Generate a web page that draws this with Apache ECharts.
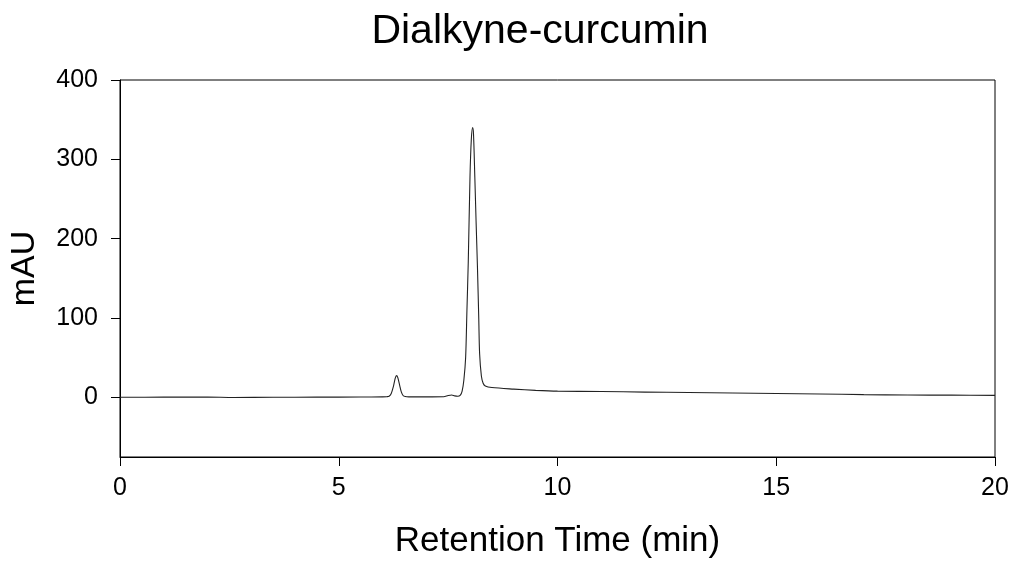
<!DOCTYPE html>
<html><head><meta charset="utf-8">
<script src="https://cdn.jsdelivr.net/npm/echarts@6/dist/echarts.min.js"></script>
<style>html,body{margin:0;padding:0;background:#fff}#c{width:1014px;height:561px}</style>
</head><body><div id="c"></div>
<script>
const titleText = 'Dialkyne-curcumin';
const xName = 'Retention Time (min)';
const yName = 'mAU';
const xTicks = [0, 5, 10, 15, 20];
const yTicks = [0, 100, 200, 300, 400];
const timeMin = [0, 1, 2, 2.6, 3.5, 4.5, 5.5, 6.0, 6.1, 6.15, 6.2, 6.25, 6.29, 6.32, 6.35, 6.39, 6.43, 6.47, 6.52, 6.6, 7.0, 7.4, 7.5, 7.58, 7.65, 7.72, 7.78, 7.82, 7.86, 7.9, 7.93, 7.96, 8.0, 8.03, 8.06, 8.08, 8.11, 8.14, 8.17, 8.2, 8.22, 8.26, 8.3, 8.35, 8.5, 9.0, 9.5, 10, 11, 12, 13, 14, 15, 16, 17, 18, 19, 20];
const mAU = [0.3, 0.4, 0.5, 0.0, 0.3, 0.4, 0.6, 0.8, 1.0, 1.5, 5, 14, 24, 27.5, 25, 16, 7, 2.5, 1.2, 0.8, 0.8, 1.0, 2.5, 3.2, 2.0, 1.5, 3, 8, 22, 50, 110, 170, 278, 325, 340, 332, 278, 220, 165, 100, 55, 27, 18, 14.5, 12.5, 10.5, 9, 8, 7.5, 6.8, 6.2, 5.6, 5, 4.4, 3.6, 3.1, 2.9, 2.6];

const chart = echarts.init(document.getElementById('c'), null, {renderer: 'canvas'});
const font = 'Liberation Sans, Arial, sans-serif';
chart.setOption({
  animation: false,
  backgroundColor: '#fff',
  title: {text: titleText, left: 535, top: 6, textAlign: 'center',
    textStyle: {fontFamily: font, fontSize: 41, fontWeight: 'normal', color: '#000'}},
  grid: {left: 120, right: 19, top: 80, bottom: 104, show: true, borderColor: '#000', borderWidth: 1,
    backgroundColor: 'transparent', containLabel: false, outerBoundsMode: 'none'},
  xAxis: {type: 'value', min: 0, max: 20, interval: 5,
    name: xName, nameLocation: 'middle', nameGap: 67,
    nameTextStyle: {fontFamily: font, fontSize: 35, color: '#000'},
    axisLine: {show: true, onZero: false, lineStyle: {color: '#000', width: 1}},
    axisTick: {show: true, inside: false, length: 9, customValues: xTicks, lineStyle: {color: '#000'}},
    axisLabel: {fontFamily: font, fontSize: 25, color: '#000', margin: 19, customValues: xTicks},
    splitLine: {show: false}},
  yAxis: {type: 'value', min: -75, max: 400,
    name: yName, nameLocation: 'middle', nameGap: 78, nameRotate: 90,
    nameTextStyle: {fontFamily: font, fontSize: 34, color: '#000'},
    axisLine: {show: true, onZero: false, lineStyle: {color: '#000', width: 1}},
    axisTick: {show: true, inside: false, length: 9, customValues: yTicks, lineStyle: {color: '#000'}},
    axisLabel: {fontFamily: font, fontSize: 25, color: '#000', margin: 22, customValues: yTicks},
    splitLine: {show: false}},
  series: [{type: 'line', data: timeMin.map((t, i) => [t, mAU[i]]),
    showSymbol: false, smooth: 0.3, lineStyle: {color: '#222', width: 1.1}}]
});
</script></body></html>
